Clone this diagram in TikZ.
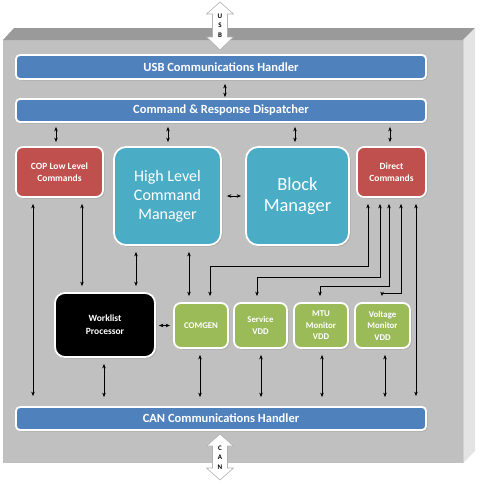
\documentclass[tikz,border=0pt]{standalone}
\usepackage{fontspec}
\setmainfont{Carlito}
\usetikzlibrary{arrows.meta,shadows}
\definecolor{cblue}{HTML}{4F81BD}
\definecolor{cred}{HTML}{C0504D}
\definecolor{cteal}{HTML}{4BACC6}
\definecolor{cgreen}{HTML}{9BBB59}
\definecolor{facefront}{HTML}{C0C0C0}
\definecolor{facetop}{HTML}{9A9A9A}
\definecolor{faceside}{HTML}{E4E4E4}
\begin{document}
\begin{tikzpicture}[x=1pt,y=-1pt,
  blk/.style={draw=white, line width=1.8pt, text=white, align=center, inner sep=0pt,
     drop shadow={opacity=0.3, shadow xshift=1.5pt, shadow yshift=-1.5pt}},
  barb/.style={blk, fill=cblue, rounded corners=4pt, minimum width=410pt, font=\bfseries\fontsize{12.5}{14}\selectfont},
  redb/.style={blk, fill=cred, rounded corners=7pt, font=\bfseries\fontsize{9.5}{12}\selectfont},
  tealb/.style={blk, fill=cteal, rounded corners=12pt, minimum height=98pt},
  greenb/.style={blk, fill=cgreen, rounded corners=7pt, minimum height=45pt, font=\bfseries\fontsize{8.8}{11.5}\selectfont},
  dbl/.style={{Stealth[length=4.5pt,width=3.5pt]}-{Stealth[length=4.5pt,width=3.5pt]}, line width=0.6pt, black},
  bigarrow/.style={fill=white, draw=gray!60, line width=0.6pt},
  busl/.style={font=\bfseries\fontsize{7}{9.5}\selectfont, align=center, inner sep=0pt}]
\useasboundingbox (0,0) rectangle (480,482);
% 3D box
\fill[facefront] (3,40) rectangle (463,463);
\fill[facetop] (3,40) -- (14,28) -- (475,28) -- (463,40) -- cycle;
\fill[faceside] (463,40) -- (475,28) -- (475,451) -- (463,463) -- cycle;
\draw[gray!35, line width=0.8pt] (463,40) -- (463,463);
% nodes
\node[barb, minimum height=24pt] (usb) at (221,67) {USB Communications Handler};
\node[barb, minimum height=23pt] (disp) at (221,110.5) {Command \& Response Dispatcher};
\node[redb, minimum width=87pt, minimum height=50pt] (cop) at (59.5,172) {COP Low Level\\Commands};
\node[tealb, minimum width=107pt, font=\fontsize{16}{19}\selectfont] (hlcm) at (167.5,196) {High Level\\Command\\Manager};
\node[tealb, minimum width=103pt, font=\fontsize{18.5}{21}\selectfont] (bm) at (297.5,196) {Block\\Manager};
\node[redb, minimum width=69pt, minimum height=50pt] (dc) at (391.5,172) {Direct\\Commands};
\node[blk, fill=black, rounded corners=10pt, minimum width=100pt, minimum height=64pt, font=\bfseries\fontsize{9.5}{13}\selectfont] (wl) at (105,325) {Worklist\\Processor};
\node[greenb, minimum width=54pt] (comgen) at (201,325.5) {COMGEN};
\node[greenb, minimum width=53pt] (svc) at (260.5,325.5) {Service\\VDD};
\node[greenb, minimum width=54pt] (mtu) at (321,325.5) {MTU\\Monitor\\VDD};
\node[greenb, minimum width=55pt] (volt) at (382.5,325.5) {Voltage\\Monitor\\VDD};
\node[barb, minimum height=23pt] (can) at (221,418.5) {CAN Communications Handler};
% connectors
\draw[dbl, shorten <=4pt, shorten >=1pt] (usb.south -| 225,0) -- (disp.north -| 225,0);
\foreach \n/\x in {cop/56, hlcm/168, bm/295, dc/390}
  \draw[dbl, shorten <=4pt, shorten >=4pt] (disp.south -| \x,0) -- (\n.north -| \x,0);
\draw[dbl, shorten <=5pt, shorten >=4pt] (hlcm.east) -- (bm.west);
\draw[dbl, shorten <=6pt, shorten >=10pt] (cop.south -| 33,0) -- (can.north -| 33,0);
\draw[dbl, shorten <=6pt, shorten >=6pt] (cop.south -| 82,0) -- (wl.north -| 82,0);
\draw[dbl, shorten <=6pt, shorten >=6pt] (hlcm.south -| 136,0) -- (wl.north -| 136,0);
\draw[dbl, shorten <=6pt, shorten >=6pt] (hlcm.south -| 189,0) -- (comgen.north -| 189,0);
\draw[dbl, shorten <=6pt, shorten >=6pt] (dc.south -| 368,0) -- (368,266) -| (comgen.north -| 210,0);
\draw[dbl, shorten <=6pt, shorten >=6pt] (dc.south -| 380,0) -- (380,277) -| (svc.north -| 257,0);
\draw[dbl, shorten <=6pt, shorten >=6pt] (dc.south -| 389,0) -- (389,286) -| (mtu.north -| 320,0);
\draw[dbl, shorten <=6pt, shorten >=6pt] (dc.south -| 401,0) -- (401,293) -| (volt.north -| 382,0);
\draw[dbl, shorten <=6pt, shorten >=10pt] (dc.south -| 416,0) -- (can.north -| 416,0);
\draw[dbl, shorten <=3pt, shorten >=3pt] (wl.east |- comgen.west) -- (comgen.west);
\foreach \n/\x in {wl/104, comgen/200, svc/261, mtu/322, volt/385}
  \draw[dbl, shorten <=6pt, shorten >=9pt] (\n.south -| \x,0) -- (can.north -| \x,0);
% USB and CAN block arrows
\draw[bigarrow] (220,2) -- (233.5,14) -- (227.5,14) -- (227.5,37) -- (233.5,37) -- (220,50) -- (206.5,37) -- (212.5,37) -- (212.5,14) -- (206.5,14) -- cycle;
\node[busl] (usbl) at (220,25.5) {U\\S\\B};
\draw[bigarrow] (220,434) -- (233.5,446) -- (227.5,446) -- (227.5,468) -- (233.5,468) -- (220,480) -- (206.5,468) -- (212.5,468) -- (212.5,446) -- (206.5,446) -- cycle;
\node[busl] (canl) at (220,457.5) {C\\A\\N};
\end{tikzpicture}
\end{document}
